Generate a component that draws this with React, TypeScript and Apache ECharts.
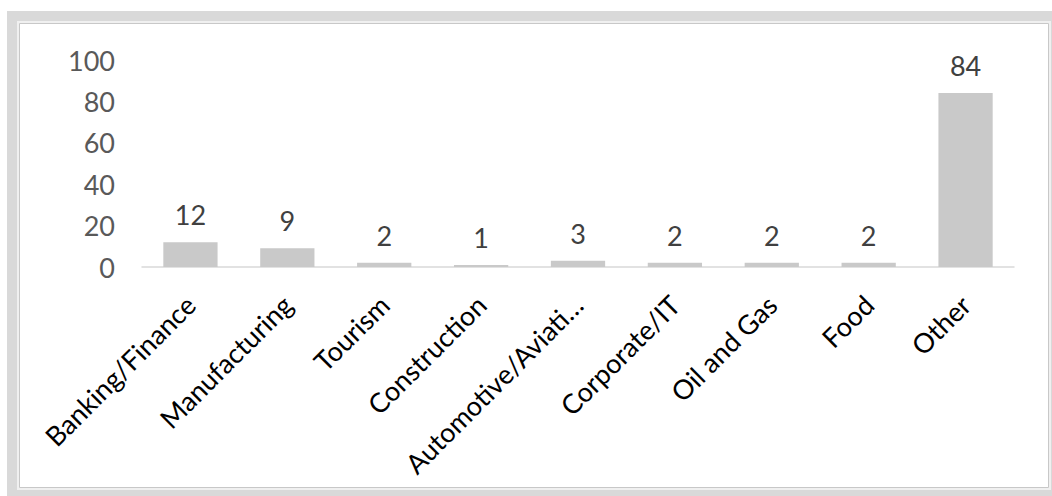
import React, { useEffect, useRef } from "react";
import * as echarts from "echarts";

const categories = [
  "Banking/Finance",
  "Manufacturing",
  "Tourism",
  "Construction",
  "Automotive/Aviati…",
  "Corporate/IT",
  "Oil and Gas",
  "Food",
  "Other",
];
const values = [12, 9, 2, 1, 3, 2, 2, 2, 84];
const yMin = 0;
const yMax = 100;
const yStep = 20;

const FONT = "Lato";

export default function App() {
  const ref = useRef<HTMLDivElement>(null);
  useEffect(() => {
    document.body.style.margin = "0";
    if (!ref.current) return;
    const chart = echarts.init(ref.current, null, { renderer: "svg" });
    chart.setOption({
      animation: false,
      backgroundColor: "#ffffff",
      graphic: [
        { type: "rect", shape: { x: 7, y: 11, width: 1045, height: 485 }, style: { fill: "#d9d9d9" }, silent: true, z: -10 },
        { type: "rect", shape: { x: 17, y: 21, width: 1034, height: 469 }, style: { fill: "#f0f0f0" }, silent: true, z: -9 },
        { type: "rect", shape: { x: 19.5, y: 23.5, width: 1029, height: 464 }, style: { fill: "#ffffff", stroke: "#c8c8c8", lineWidth: 1 }, silent: true, z: -8 },
      ],
      grid: { left: 142, right: 38, top: 60, bottom: 229, containLabel: false },
      xAxis: {
        type: "category",
        data: categories,
        axisLine: { show: true, lineStyle: { color: "#d9d9d9", width: 1.5 } },
        axisTick: { show: false },
        axisLabel: {
          interval: 0,
          rotate: 45,
          align: "right",
          verticalAlign: "middle",
          margin: 33,
          color: "#000000",
          fontSize: 27,
          fontFamily: FONT,
        },
      },
      yAxis: {
        type: "value",
        min: yMin,
        max: yMax,
        interval: yStep,
        axisLine: { show: false },
        axisTick: { show: false },
        splitLine: { show: false },
        axisLabel: { margin: 27, color: "#595959", fontSize: 27, fontFamily: FONT },
      },
      series: [
        {
          type: "bar",
          data: values,
          barWidth: "56%",
          itemStyle: { color: "#c9c9c9" },
          label: {
            show: true,
            position: "top",
            distance: 14,
            color: "#404040",
            fontSize: 27,
            fontFamily: FONT,
          },
        },
      ],
    });
    return () => chart.dispose();
  }, []);
  return <div ref={ref} style={{ width: 1052, height: 496 }} />;
}
